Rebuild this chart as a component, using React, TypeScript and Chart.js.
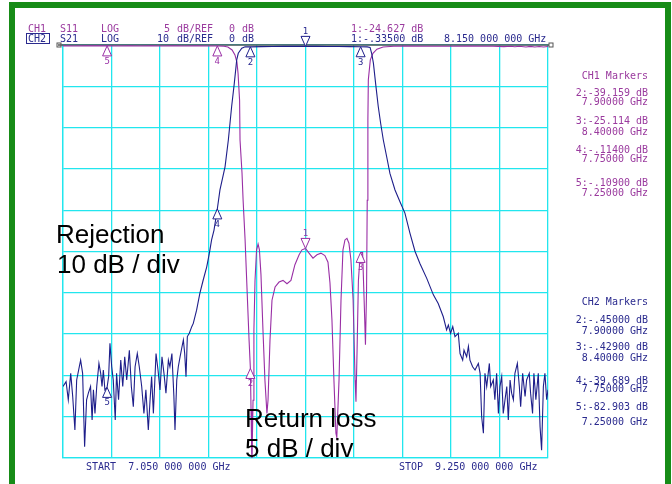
import React, { useEffect, useRef } from 'react';
import { Chart, registerables } from 'chart.js';

Chart.register(...registerables);

// ---------- data ----------
const startFreq = 7.05;
const stopFreq = 9.25;
const centerMarkerFreq = 8.15;

// S21 (CH2, 10 dB/div)
const s21Freq = [
  7.050, 7.064, 7.074, 7.085, 7.094, 7.104, 7.112, 7.124, 7.130, 7.139, 7.148, 7.157, 7.165, 7.175,
  7.182, 7.188, 7.195, 7.203, 7.213, 7.221, 7.227, 7.233, 7.240, 7.250, 7.257, 7.263, 7.271, 7.278,
  7.287, 7.293, 7.302, 7.312, 7.321, 7.330, 7.339, 7.351, 7.360, 7.369, 7.377, 7.387, 7.396, 7.407,
  7.417, 7.426, 7.437, 7.445, 7.452, 7.460, 7.472, 7.481, 7.490, 7.499, 7.508, 7.517, 7.528, 7.535,
  7.544, 7.553, 7.558, 7.566, 7.573, 7.581, 7.590, 7.596, 7.602, 7.608, 7.614, 7.623, 7.634, 7.641,
  7.656, 7.671, 7.686, 7.702, 7.714, 7.724, 7.735, 7.750, 7.762, 7.785, 7.800, 7.815, 7.827, 7.838,
  7.845, 7.861, 7.876, 7.900, 7.950, 8.000, 8.050, 8.100, 8.150, 8.200, 8.250, 8.300, 8.350, 8.400,
  8.430, 8.443, 8.450, 8.458, 8.468, 8.480, 8.491, 8.503, 8.518, 8.533, 8.556, 8.579, 8.601, 8.624,
  8.647, 8.669, 8.700, 8.730, 8.752, 8.775, 8.790, 8.798, 8.808, 8.818, 8.828, 8.843, 8.851, 8.863,
  8.869, 8.881, 8.889, 8.896, 8.908, 8.919, 8.934, 8.942, 8.949, 8.957, 8.964, 8.972, 8.984, 8.990,
  9.002, 9.009, 9.017, 9.025, 9.032, 9.040, 9.047, 9.055, 9.063, 9.070, 9.078, 9.085, 9.093, 9.100,
  9.111, 9.120, 9.126, 9.135, 9.146, 9.153, 9.165, 9.171, 9.180, 9.186, 9.195, 9.206, 9.214, 9.221,
  9.229, 9.236, 9.244, 9.250,
];
const s21Db = [
  -82.7, -81.5, -85.9, -79.5, -85.1, -93.2, -81.1, -77.9, -76.3, -79.5, -97.3, -85.9, -84.3, -82.7,
  -90.8, -83.5, -89.2, -82.7, -77.1, -79.5, -82.7, -78.7, -83.5, -82.9, -80.3, -72.2, -77.9, -81.1,
  -90.8, -79.5, -85.9, -76.3, -82.7, -75.5, -81.1, -73.9, -82.7, -87.6, -77.9, -74.7, -77.9, -82.7,
  -89.2, -83.5, -93.2, -85.9, -80.3, -89.2, -74.7, -78.7, -83.5, -75.5, -79.5, -84.3, -76.3, -77.9,
  -74.7, -85.1, -93.2, -81.1, -77.9, -75.5, -73.0, -71.4, -74.7, -80.3, -70.6, -69.8, -68.2, -67.4,
  -64.2, -60.1, -56.9, -53.7, -50.4, -47.2, -44.8, -39.7, -35.1, -29.5, -23.0, -14.9, -9.3, -3.6,
  -2.0, -0.8, -0.45, -0.45, -0.40, -0.36, -0.34, -0.33, -0.335, -0.34, -0.36, -0.38, -0.40, -0.429,
  -0.45, -0.6, -2.0, -4.4, -9.3, -14.9, -19.0, -23.0, -27.0, -31.1, -35.1, -38.0, -40.7, -45.6,
  -50.0, -52.9, -56.5, -60.5, -62.6, -65.8, -69.0, -67.8, -69.8, -68.2, -70.6, -69.8, -74.7, -76.3,
  -73.9, -75.5, -73.0, -76.3, -77.9, -78.7, -77.1, -79.5, -90.0, -94.0, -79.5, -82.7, -77.1, -82.7,
  -81.1, -85.9, -79.5, -89.2, -82.7, -80.3, -89.2, -85.9, -82.7, -90.8, -81.1, -84.3, -85.9, -79.5,
  -77.1, -82.7, -87.6, -79.5, -85.1, -81.1, -79.5, -84.3, -89.2, -79.5, -85.9, -79.5, -92.4, -98.1,
  -82.7, -79.5, -85.9, -83.5,
];

// S11 (CH1, 5 dB/div)
const s11Freq = [
  7.050, 7.100, 7.150, 7.200, 7.250, 7.300, 7.350, 7.400, 7.450, 7.500, 7.550, 7.600, 7.650, 7.700,
  7.750, 7.780, 7.798, 7.817, 7.830, 7.839, 7.844, 7.851, 7.853, 7.862, 7.867, 7.876, 7.885, 7.894,
  7.900, 7.903, 7.907, 7.912, 7.916, 7.921, 7.928, 7.935, 7.941, 7.948, 7.957, 7.966, 7.975, 7.980,
  7.989, 7.998, 8.012, 8.030, 8.048, 8.066, 8.084, 8.102, 8.121, 8.134, 8.150, 8.166, 8.184, 8.202,
  8.220, 8.238, 8.252, 8.261, 8.270, 8.279, 8.288, 8.292, 8.302, 8.311, 8.320, 8.329, 8.338, 8.347,
  8.356, 8.366, 8.375, 8.379, 8.384, 8.390, 8.397, 8.400, 8.409, 8.416, 8.422, 8.427, 8.430, 8.433,
  8.435, 8.444, 8.456, 8.474, 8.502, 8.550, 8.600, 8.700, 8.800, 8.900, 9.000, 9.050, 9.080, 9.100,
  9.120, 9.150, 9.170, 9.190, 9.210, 9.230, 9.250,
];
const s11Db = [
  -0.10, -0.12, -0.10, -0.11, -0.109, -0.12, -0.10, -0.12, -0.11, -0.12, -0.11, -0.12, -0.11, -0.12,
  -0.114, -0.15, -0.24, -0.6, -1.2, -2.1, -3.4, -6.7, -11.5, -15.5, -18.8, -23.6, -29.7, -35.7,
  -39.159, -44.2, -51.0, -43.0, -34.5, -28.5, -24.8, -24.1, -24.8, -27.8, -34.5, -40.6, -44.6, -43.0,
  -35.7, -30.9, -29.3, -28.7, -28.5, -28.9, -28.5, -26.6, -25.4, -24.8, -24.627, -25.2, -25.8, -25.4,
  -25.2, -25.5, -26.3, -28.8, -33.3, -40.6, -47.0, -47.5, -40.6, -30.9, -24.8, -23.6, -23.4, -24.0,
  -26.0, -30.9, -40.6, -43.2, -36.9, -28.5, -25.8, -25.114, -25.1, -30.9, -36.3, -29.7, -18.8, -9.1,
  -4.2, -1.8, -1.0, -0.5, -0.24, -0.15, -0.14, -0.15, -0.16, -0.14, -0.16, -0.2, -0.15, -0.22,
  -0.16, -0.24, -0.17, -0.25, -0.18, -0.24, -0.18,
];

// markers
const markerNums = [1, 2, 3, 4, 5];
const markerFreq = [8.15, 7.9, 8.4, 7.75, 7.25];
const s11MarkerDb = [-24.627, -39.159, -25.114, -0.114, -0.109];
const s21MarkerDb = [-0.335, -0.45, -0.429, -39.689, -82.903];

// grid / scale settings
const xGridValues = [7.05, 7.27, 7.49, 7.71, 7.93, 8.15, 8.37, 8.59, 8.81, 9.03, 9.25];
const yGridValues = [0, -10, -20, -30, -40, -50, -60, -70, -80, -90, -100];
const s21Range = [-100, 0];
const s11Range = [-50, 0];

// ---------- styles ----------
const CYAN = '#22e6ee';
const PURPLE_TXT = '#9a3a9e';
const NAVY_TXT = '#2a2a8e';
const PURPLE_TRACE = '#992ea5';
const NAVY_TRACE = '#1e1e8a';
const GREEN = '#178c17';
const MONO = '10px "DejaVu Sans Mono", monospace';
const BIG = '26px "Liberation Sans", Arial, sans-serif';

function fmtDb(v: number): string {
  return v.toPrecision(5).replace(/^(-?)0\./, '$1.');
}
function fmtGhz5(v: number): string {
  return v.toFixed(5) + ' GHz';
}
function fmtGhz9(v: number): string {
  const s = v.toFixed(9);
  const [i, f] = s.split('.');
  return `${i}.${f.slice(0, 3)} ${f.slice(3, 6)} ${f.slice(6, 9)} GHz`;
}

function drawMarker(ctx: CanvasRenderingContext2D, x: number, y: number, num: number, color: string) {
  ctx.save();
  ctx.strokeStyle = color;
  ctx.fillStyle = '#ffffff';
  ctx.lineWidth = 1;
  ctx.beginPath();
  if (num === 1) {
    ctx.moveTo(x - 4.5, y - 10);
    ctx.lineTo(x + 4.5, y - 10);
    ctx.lineTo(x, y);
  } else {
    ctx.moveTo(x - 4.5, y + 10);
    ctx.lineTo(x + 4.5, y + 10);
    ctx.lineTo(x, y);
  }
  ctx.closePath();
  ctx.fill();
  ctx.stroke();
  ctx.fillStyle = color;
  ctx.font = '9px "DejaVu Sans Mono", monospace';
  ctx.textAlign = 'center';
  if (num === 1) {
    ctx.textBaseline = 'alphabetic';
    ctx.fillText(String(num), x, y - 12);
  } else {
    ctx.textBaseline = 'top';
    ctx.fillText(String(num), x, y + 11);
  }
  ctx.restore();
}

const overlayPlugin = {
  id: 'vnaOverlay',
  beforeDatasetsDraw(chart: any) {
    const { ctx, chartArea } = chart;
    ctx.save();
    ctx.strokeStyle = '#555555';
    ctx.lineWidth = 1.5;
    ctx.beginPath();
    ctx.moveTo(chartArea.left - 5, chartArea.top);
    ctx.lineTo(chartArea.right + 1, chartArea.top);
    ctx.stroke();
    ctx.lineWidth = 1;
    ctx.strokeRect(chartArea.left - 6, chartArea.top - 2, 4, 4);
    ctx.strokeRect(chartArea.right + 1, chartArea.top - 2, 4, 4);
    ctx.restore();
  },
  afterDraw(chart: any) {
    const { ctx, scales } = chart;
    const xs = scales.x;
    const y21 = scales.y;
    const y11 = scales.y2;
    ctx.save();

    // green frame
    ctx.fillStyle = GREEN;
    ctx.fillRect(9, 2, 6, 482);
    ctx.fillRect(9, 2, 662, 6);
    ctx.fillRect(665, 2, 6, 482);

    // markers
    markerNums.forEach((n, i) => {
      const px = xs.getPixelForValue(markerFreq[i]);
      drawMarker(ctx, px, y21.getPixelForValue(s21MarkerDb[i]), n, NAVY_TRACE);
      drawMarker(ctx, px, y11.getPixelForValue(s11MarkerDb[i]), n, PURPLE_TRACE);
    });

    // header
    ctx.font = MONO;
    ctx.textBaseline = 'alphabetic';
    ctx.textAlign = 'left';
    ctx.fillStyle = PURPLE_TXT;
    ctx.fillText('CH1', 28, 32);
    ctx.fillText('S11', 60, 32);
    ctx.fillText('LOG', 101, 32);
    ctx.fillText('5', 164, 32);
    ctx.fillText('dB/REF', 177, 32);
    ctx.fillText('0', 229, 32);
    ctx.fillText('dB', 242, 32);
    ctx.fillText('1:' + fmtDb(s11MarkerDb[0]) + ' dB', 351, 32);

    ctx.fillStyle = NAVY_TXT;
    ctx.fillText('CH2', 28, 42);
    ctx.fillText('S21', 60, 42);
    ctx.fillText('LOG', 101, 42);
    ctx.fillText('10', 157, 42);
    ctx.fillText('dB/REF', 177, 42);
    ctx.fillText('0', 229, 42);
    ctx.fillText('dB', 242, 42);
    ctx.fillText('1:' + fmtDb(s21MarkerDb[0]) + ' dB', 351, 42);
    ctx.fillText(fmtGhz9(centerMarkerFreq), 444, 42);
    ctx.strokeStyle = NAVY_TXT;
    ctx.lineWidth = 1;
    ctx.strokeRect(26.5, 33.5, 23, 10);

    // bottom
    ctx.fillText('START  ' + fmtGhz9(startFreq), 86, 470);
    ctx.fillText('STOP  ' + fmtGhz9(stopFreq), 399, 470);

    // right panel
    ctx.textAlign = 'right';
    const rx = 648;
    ctx.fillStyle = PURPLE_TXT;
    ctx.fillText('CH1 Markers', rx, 79);
    const ch1Y = [[95.5, 105], [123.5, 134.5], [153, 161.5], [185.5, 195.5]];
    for (let i = 1; i < 5; i++) {
      ctx.fillText(`${markerNums[i]}:${fmtDb(s11MarkerDb[i])} dB`, rx, ch1Y[i - 1][0]);
      ctx.fillText(fmtGhz5(markerFreq[i]), rx, ch1Y[i - 1][1]);
    }
    ctx.fillStyle = NAVY_TXT;
    ctx.fillText('CH2 Markers', rx, 305);
    const ch2Y = [[323, 333.5], [350, 361], [383.5, 392], [410, 425]];
    for (let i = 1; i < 5; i++) {
      ctx.fillText(`${markerNums[i]}:${fmtDb(s21MarkerDb[i])} dB`, rx, ch2Y[i - 1][0]);
      ctx.fillText(fmtGhz5(markerFreq[i]), rx, ch2Y[i - 1][1]);
    }

    // annotations
    ctx.textAlign = 'left';
    ctx.fillStyle = '#000000';
    ctx.font = BIG;
    ctx.fillText('Rejection', 56, 243);
    ctx.fillText('10 dB / div', 57, 273);
    ctx.fillText('Return loss', 245, 427);
    ctx.fillText('5 dB / div', 245, 457);

    ctx.restore();
  },
};

export default function App() {
  const ref = useRef<HTMLCanvasElement | null>(null);

  useEffect(() => {
    document.body.style.margin = '0';
    const canvas = ref.current;
    if (!canvas) return;
    const chart = new Chart(canvas, {
      type: 'line',
      data: {
        datasets: [
          {
            label: 'S21',
            data: s21Freq.map((f, i) => ({ x: f, y: s21Db[i] })),
            borderColor: NAVY_TRACE,
            borderWidth: 1.1,
            pointRadius: 0,
            tension: 0,
            yAxisID: 'y',
          },
          {
            label: 'S11',
            data: s11Freq.map((f, i) => ({ x: f, y: s11Db[i] })),
            borderColor: PURPLE_TRACE,
            borderWidth: 1.1,
            pointRadius: 0,
            tension: 0,
            yAxisID: 'y2',
          },
        ],
      },
      options: {
        animation: false,
        responsive: false,
        maintainAspectRatio: false,
        events: [],
        layout: { padding: { left: 63, top: 45, right: 124, bottom: 26 } },
        plugins: { legend: { display: false }, tooltip: { enabled: false } },
        scales: {
          x: {
            type: 'linear',
            min: startFreq,
            max: stopFreq,
            afterBuildTicks: (axis: any) => {
              axis.ticks = xGridValues.map((v) => ({ value: v }));
            },
            ticks: { display: false },
            grid: { color: CYAN, drawTicks: false, lineWidth: 1.3 },
            border: { display: true, color: CYAN, width: 1.3 },
          },
          y: {
            type: 'linear',
            min: s21Range[0],
            max: s21Range[1],
            afterBuildTicks: (axis: any) => {
              axis.ticks = yGridValues.map((v) => ({ value: v }));
            },
            ticks: { display: false },
            grid: { color: CYAN, drawTicks: false, lineWidth: 1.3 },
            border: { display: true, color: CYAN, width: 1.3 },
          },
          y2: {
            type: 'linear',
            display: false,
            position: 'right',
            min: s11Range[0],
            max: s11Range[1],
          },
        },
      },
      plugins: [overlayPlugin],
    } as any);
    return () => chart.destroy();
  }, []);

  return (
    <div style={{ width: 672, height: 484, background: '#ffffff', position: 'relative' }}>
      <canvas ref={ref} width={672} height={484} style={{ display: 'block' }} />
    </div>
  );
}
